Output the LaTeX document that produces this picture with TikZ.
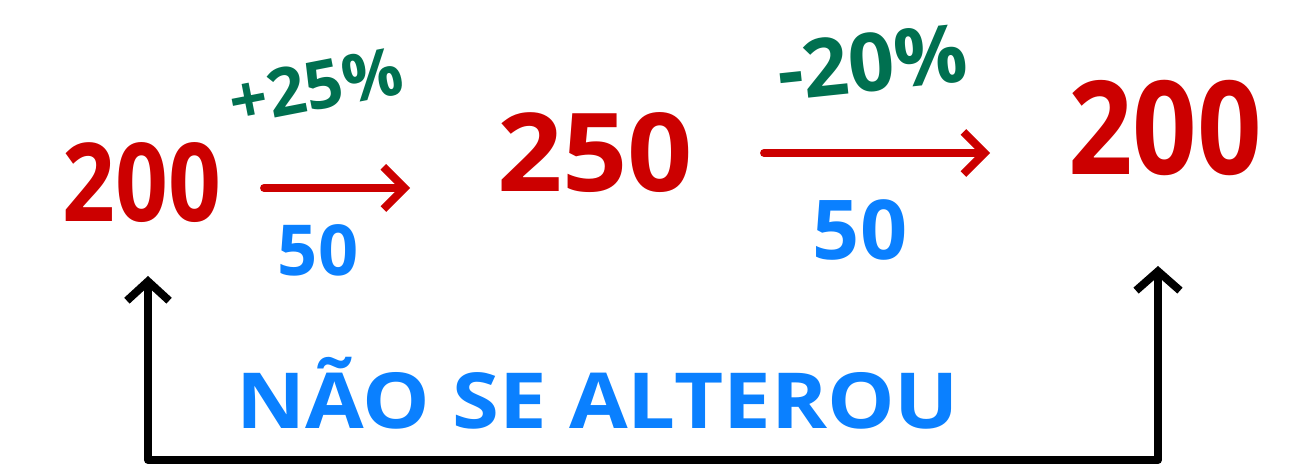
\documentclass[tikz,border=0pt]{standalone}
\usepackage{fontspec}
\setmainfont{Open Sans}
\usetikzlibrary{arrows.meta}
\definecolor{hred}{HTML}{CC0000}
\definecolor{hgreen}{HTML}{007050}
\definecolor{hblue}{HTML}{0A80FF}
\tikzset{
  num/.style={text=hred, inner sep=0pt, anchor=center},
  pct/.style={text=hgreen, inner sep=0pt, anchor=center},
  diff/.style={text=hblue, inner sep=0pt, anchor=center},
  redarrow/.style={draw=hred, line width=4.5pt, line cap=round, line join=round,
    -{Straight Barb[length=12pt,width=24pt,line width=4.5pt]}},
  blackarrow/.style={draw=black, line width=4.5pt, line cap=round, line join=round,
    {Straight Barb[length=11pt,width=24pt,line width=4.5pt]}-{Straight Barb[length=11pt,width=25pt,line width=4.5pt]}}
}
\begin{document}
\begin{tikzpicture}[x=0.02cm,y=-0.02cm]
\useasboundingbox (0,0) rectangle (1307,475);
\node[num, font=\fontsize{62}{62}\selectfont\bfseries, xscale=0.85] (n1) at (142,183) {200};
\node[num, font=\fontsize{62}{62}\selectfont\bfseries, xscale=1.05] (n2) at (595,153) {250};
\node[num, font=\fontsize{74}{74}\selectfont\bfseries, xscale=0.87] (n3) at (1165,128) {200};
\node[pct, font=\fontsize{38}{38}\selectfont\bfseries, rotate=11] (p1) at (316,86) {+25\%};
\node[pct, font=\fontsize{46}{46}\selectfont\bfseries, rotate=6] (p2) at (872,62) {-20\%};
\node[diff, font=\fontsize{40}{40}\selectfont\bfseries] (d1) at (318,250) {50};
\node[diff, font=\fontsize{47}{47}\selectfont\bfseries] (d2) at (860,230) {50};
\node[diff, font=\fontsize{44}{44}\selectfont\bfseries, xscale=1.1] (lab) at (598,393) {NÃO SE ALTEROU};
\coordinate (a1s) at (264,188);
\coordinate (a1e) at (410,188);
\coordinate (a2s) at (764,153);
\coordinate (a2e) at (990,153);
\draw[redarrow] (a1s) -- (a1e);
\draw[redarrow] (a2s) -- (a2e);
\coordinate (lt) at (148,276);
\coordinate (lb) at (148,460);
\coordinate (rb) at (1158,460);
\coordinate (rt) at (1158,266);
\draw[blackarrow] (lt) -- (lb) -- (rb) -- (rt);
\end{tikzpicture}
\end{document}
